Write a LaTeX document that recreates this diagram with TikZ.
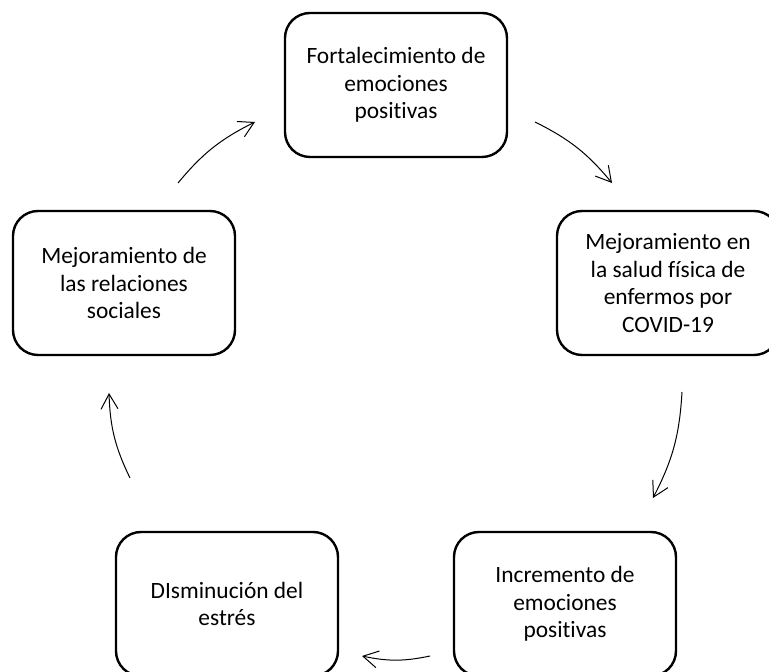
\documentclass[tikz,border=0pt]{standalone}
\usepackage{fontspec}
\setmainfont{Carlito}[Ligatures={NoCommon,NoRequired,NoContextual}]
\usetikzlibrary{arrows.meta}

\begin{document}
\begin{tikzpicture}
[x=1pt,y=1pt,
 every node/.style={draw,rounded corners=25pt,line width=2.4pt,minimum width=222pt,minimum height=144pt,
   align=center,font=\fontsize{23.4}{27.5}\selectfont},
 cyc/.style={line width=1pt,-{Straight Barb[length=15pt,width=17pt]}}]

  \useasboundingbox (0,0) rectangle (769,672);
  \clip (0,0) rectangle (769,672);

  \node (fort) at (396,587) {Fortalecimiento de\\emociones\\positivas};
  \node (salud) at (668,389) {Mejoramiento en\\la salud física de\\enfermos por\\COVID-19};
  \node (incr) at (565,68) {Incremento de\\emociones\\positivas};
  \node (dism) at (227,68) {DIsminución del\\estrés};
  \node (rel) at (124,389) {Mejoramiento de\\las relaciones\\sociales};

  % arrow ends between the boxes
  \coordinate (s1) at (535,550);
  \coordinate (e1) at (612,489);
  \coordinate (s2) at (682,280);
  \coordinate (e2) at (653,174);
  \coordinate (s3) at (430,16);
  \coordinate (e3) at (362,16);
  \coordinate (s4) at (130,194);
  \coordinate (e4) at (109,279);
  \coordinate (s5) at (178,489);
  \coordinate (e5) at (255,550);

  \foreach \i in {1,...,5}
    \draw[cyc] (s\i) to[bend left=12] (e\i);

\end{tikzpicture}
\end{document}
